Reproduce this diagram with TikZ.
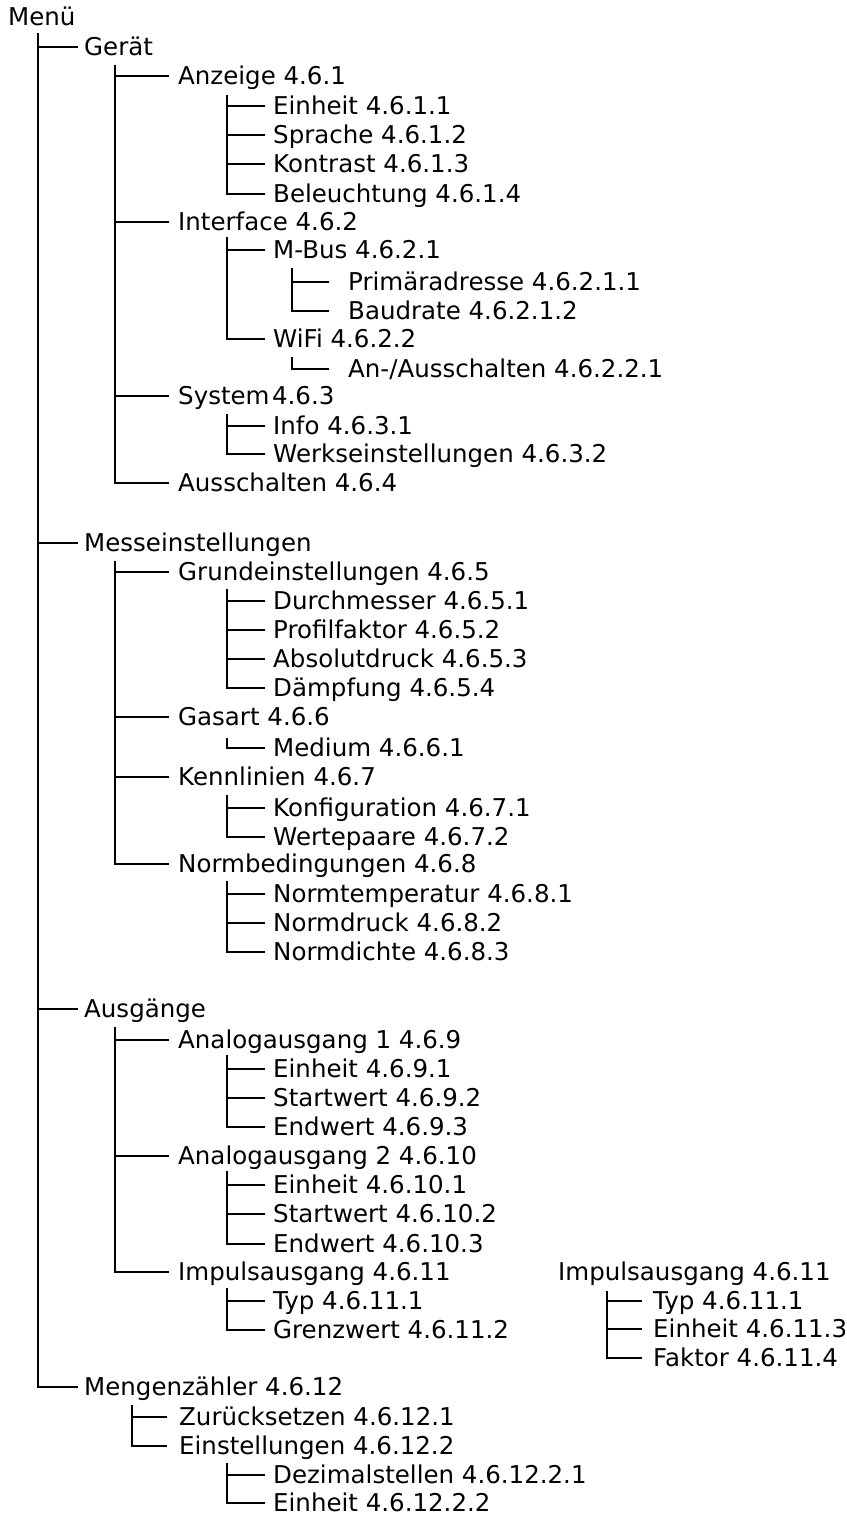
\documentclass[tikz,border=0pt]{standalone}
\usepackage{fontspec}
\setmainfont{DejaVu Sans}
\begin{document}
\begin{tikzpicture}[x=1pt,y=-1pt,
  lbl/.style={anchor=west,inner sep=0pt,text height=17.8pt,text depth=0pt,font=\fontsize{24.5pt}{29pt}\selectfont},
  conn/.style={line width=1.8pt}]
\useasboundingbox (0,0) rectangle (846,1517);
% ---------- nodes ----------
\node[lbl] (menu) at (8,17) {Menü};
\node[lbl] (geraet) at (84,47) {Gerät};
\node[lbl] (anz) at (178,76) {Anzeige 4.6.1};
\node[lbl] (anz1) at (273,106) {Einheit 4.6.1.1};
\node[lbl] (anz2) at (273,135) {Sprache 4.6.1.2};
\node[lbl] (anz3) at (273,164) {Kontrast 4.6.1.3};
\node[lbl] (anz4) at (273,194) {Beleuchtung 4.6.1.4};
\node[lbl] (intf) at (178,222) {Interface 4.6.2};
\node[lbl] (mbus) at (273,250) {M-Bus 4.6.2.1};
\node[lbl] (mbus1) at (348,282) {Primäradresse 4.6.2.1.1};
\node[lbl] (mbus2) at (348,311) {Baudrate 4.6.2.1.2};
\node[lbl] (wifi) at (273,339) {WiFi 4.6.2.2};
\node[lbl] (wifi1) at (348,369) {An-/Ausschalten 4.6.2.2.1};
\node[lbl] (sys) at (178,396) {System\hspace{2.5pt}4.6.3};
\node[lbl] (sys1) at (273,426) {Info 4.6.3.1};
\node[lbl] (sys2) at (273,454) {Werkseinstellungen 4.6.3.2};
\node[lbl] (aus) at (178,483) {Ausschalten 4.6.4};
\node[lbl] (mess) at (84,543) {Messeinstellungen};
\node[lbl] (grund) at (178,572) {Grundeinstellungen 4.6.5};
\node[lbl] (grund1) at (273,601) {Durchmesser 4.6.5.1};
\node[lbl] (grund2) at (273,630) {Profilfaktor 4.6.5.2};
\node[lbl] (grund3) at (273,659) {Absolutdruck 4.6.5.3};
\node[lbl] (grund4) at (273,688) {Dämpfung 4.6.5.4};
\node[lbl] (gas) at (178,717) {Gasart 4.6.6};
\node[lbl] (gas1) at (273,748) {Medium 4.6.6.1};
\node[lbl] (kenn) at (178,777) {Kennlinien 4.6.7};
\node[lbl] (kenn1) at (273,808) {Konfiguration 4.6.7.1};
\node[lbl] (kenn2) at (273,837) {Wertepaare 4.6.7.2};
\node[lbl] (norm) at (178,864) {Normbedingungen 4.6.8};
\node[lbl] (norm1) at (273,894) {Normtemperatur 4.6.8.1};
\node[lbl] (norm2) at (273,923) {Normdruck 4.6.8.2};
\node[lbl] (norm3) at (273,952) {Normdichte 4.6.8.3};
\node[lbl] (ausg) at (84,1009) {Ausgänge};
\node[lbl] (ana1) at (178,1040) {Analogausgang 1 4.6.9};
\node[lbl] (ana11) at (273,1069) {Einheit 4.6.9.1};
\node[lbl] (ana12) at (273,1098) {Startwert 4.6.9.2};
\node[lbl] (ana13) at (273,1127) {Endwert 4.6.9.3};
\node[lbl] (ana2) at (178,1156) {Analogausgang 2 4.6.10};
\node[lbl] (ana21) at (273,1185) {Einheit 4.6.10.1};
\node[lbl] (ana22) at (273,1214) {Startwert 4.6.10.2};
\node[lbl] (ana23) at (273,1244) {Endwert 4.6.10.3};
\node[lbl] (imp) at (178,1272) {Impulsausgang 4.6.11};
\node[lbl] (imp1) at (273,1301) {Typ 4.6.11.1};
\node[lbl] (imp2) at (273,1330) {Grenzwert 4.6.11.2};
\node[lbl] (meng) at (84,1387) {Mengenzähler 4.6.12};
\node[lbl] (meng1) at (179,1417) {Zurücksetzen 4.6.12.1};
\node[lbl] (meng2) at (179,1446) {Einstellungen 4.6.12.2};
\node[lbl] (ein1) at (273,1475) {Dezimalstellen 4.6.12.2.1};
\node[lbl] (ein2) at (273,1503) {Einheit 4.6.12.2.2};
\node[lbl] (rimp) at (558,1272) {Impulsausgang 4.6.11};
\node[lbl] (rimp1) at (653,1301) {Typ 4.6.11.1};
\node[lbl] (rimp3) at (653,1329) {Einheit 4.6.11.3};
\node[lbl] (rimp4) at (653,1358) {Faktor 4.6.11.4};
% ---------- vertical start points ----------
\coordinate (vMenu) at (38,33);
\coordinate (vGer) at (115,65);
\coordinate (vAnz) at (227,95);
\coordinate (vInt) at (227,237);
\coordinate (vMbus) at (292,268);
\coordinate (vWifi) at (292,357);
\coordinate (vSys) at (227,414);
\coordinate (vMess) at (115,561);
\coordinate (vGrund) at (227,589);
\coordinate (vGas) at (227,738);
\coordinate (vKenn) at (227,795);
\coordinate (vNorm) at (227,881);
\coordinate (vAusg) at (115,1027);
\coordinate (vAna1) at (227,1055);
\coordinate (vAna2) at (227,1171);
\coordinate (vImp) at (227,1288);
\coordinate (vMeng) at (132,1405);
\coordinate (vEin) at (227,1463);
\coordinate (vRimp) at (607,1291);
% ---------- connectors ----------
\foreach \c in {geraet,mess,ausg,meng}
  \draw[conn] (vMenu) |- ([xshift=-6pt]\c.west);
\foreach \c in {anz,intf,sys,aus}
  \draw[conn] (vGer) |- ([xshift=-9pt]\c.west);
\foreach \c in {anz1,anz2,anz3,anz4}
  \draw[conn] (vAnz) |- ([xshift=-8pt]\c.west);
\foreach \c in {mbus,wifi}
  \draw[conn] (vInt) |- ([xshift=-8pt]\c.west);
\foreach \c in {mbus1,mbus2}
  \draw[conn] (vMbus) |- ([xshift=-19pt]\c.west);
\draw[conn] (vWifi) |- ([xshift=-19pt]wifi1.west);
\foreach \c in {sys1,sys2}
  \draw[conn] (vSys) |- ([xshift=-8pt]\c.west);
\foreach \c in {grund,gas,kenn,norm}
  \draw[conn] (vMess) |- ([xshift=-9pt]\c.west);
\foreach \c in {grund1,grund2,grund3,grund4}
  \draw[conn] (vGrund) |- ([xshift=-8pt]\c.west);
\draw[conn] (vGas) |- ([xshift=-8pt]gas1.west);
\foreach \c in {kenn1,kenn2}
  \draw[conn] (vKenn) |- ([xshift=-8pt]\c.west);
\foreach \c in {norm1,norm2,norm3}
  \draw[conn] (vNorm) |- ([xshift=-8pt]\c.west);
\foreach \c in {ana1,ana2,imp}
  \draw[conn] (vAusg) |- ([xshift=-9pt]\c.west);
\foreach \c in {ana11,ana12,ana13}
  \draw[conn] (vAna1) |- ([xshift=-8pt]\c.west);
\foreach \c in {ana21,ana22,ana23}
  \draw[conn] (vAna2) |- ([xshift=-8pt]\c.west);
\foreach \c in {imp1,imp2}
  \draw[conn] (vImp) |- ([xshift=-8pt]\c.west);
\foreach \c in {meng1,meng2}
  \draw[conn] (vMeng) |- ([xshift=-12pt]\c.west);
\foreach \c in {ein1,ein2}
  \draw[conn] (vEin) |- ([xshift=-8pt]\c.west);
\foreach \c in {rimp1,rimp3,rimp4}
  \draw[conn] (vRimp) |- ([xshift=-11pt]\c.west);
\end{tikzpicture}
\end{document}
